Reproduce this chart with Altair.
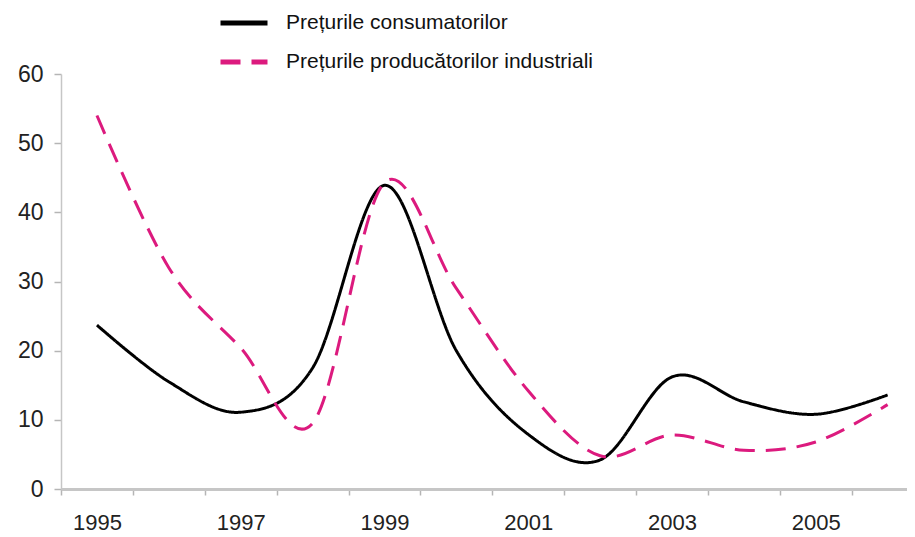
import altair as alt
import pandas as pd

years = list(range(1995, 2007))
consumer = [23.7, 15.5, 11.1, 17.5, 43.9, 20.0, 7.9, 4.2, 16.2, 12.6, 10.8, 13.6]
producer = [54.0, 32.0, 20.4, 9.5, 44.3, 29.0, 14.2, 4.8, 7.8, 5.6, 6.8, 12.2]
series_names = ["Prețurile consumatorilor", "Prețurile producătorilor industriali"]
series_colors = ["#000000", "#dc1a7e"]
x_boundaries = [1994.5 + i for i in range(12)]
x_label_years = [1995, 1997, 1999, 2001, 2003, 2005]
y_ticks = [0, 10, 20, 30, 40, 50, 60]

rows = []
for name, vals in zip(series_names, [consumer, producer]):
    for yr, v in zip(years, vals):
        rows.append({"year": yr, "value": v, "series": name})
df = pd.DataFrame(rows)

FONT = "Liberation Sans"

legend = alt.Legend(
    title=None,
    orient="none",
    legendX=157,
    legendY=-77,
    direction="vertical",
    symbolType="stroke",
    symbolSize=2209,
    symbolStrokeWidth=5,
    labelFontSize=21,
    labelFont=FONT,
    labelColor="#111111",
    labelOffset=16,
    labelLimit=600,
    rowPadding=3,
    padding=0,
)

chart = (
    alt.Chart(df)
    .mark_line(interpolate="cardinal", strokeWidth=3)
    .encode(
        x=alt.X(
            "year:Q",
            scale=alt.Scale(domain=[1994.5, 2006.27], nice=False, zero=False),
            axis=alt.Axis(
                title=None,
                values=sorted(x_boundaries + x_label_years),
                labelExpr="datum.value % 1 === 0 ? datum.value + '' : ''",
                tickOpacity={"condition": {"test": "datum.value % 1 === 0", "value": 0}, "value": 1},
                grid=False,
                domainColor="#c6c6c6",
                domainWidth=3,
                tickColor="#b5b5b5",
                tickWidth=1.5,
                tickSize=6,
                labelFont=FONT,
                labelFontSize=22,
                labelColor="#222222",
                labelPadding=17,
                labelOverlap=False,
                labelFlush=False,
            ),
        ),
        y=alt.Y(
            "value:Q",
            scale=alt.Scale(domain=[0, 60], nice=False),
            axis=alt.Axis(
                title=None,
                values=y_ticks,
                grid=False,
                domainColor="#c6c6c6",
                domainWidth=1.5,
                tickColor="#b5b5b5",
                tickWidth=1.5,
                tickSize=7,
                labelFont=FONT,
                labelFontSize=23,
                labelColor="#222222",
                labelPadding=11,
            ),
        ),
        color=alt.Color(
            "series:N",
            scale=alt.Scale(domain=series_names, range=series_colors),
            legend=legend,
        ),
        strokeDash=alt.StrokeDash(
            "series:N",
            scale=alt.Scale(domain=series_names, range=[[1, 0], [20, 11]]),
            legend=legend,
        ),
    )
    .properties(
        width=846,
        height=415,
        autosize=alt.AutoSizeParams(type="none"),
        padding={"left": 53, "top": 66, "right": 0, "bottom": 44},
        background="white",
    )
    .configure_view(stroke=None)
)

chart.save("out.html", embed_options={"renderer": "svg", "actions": False})
